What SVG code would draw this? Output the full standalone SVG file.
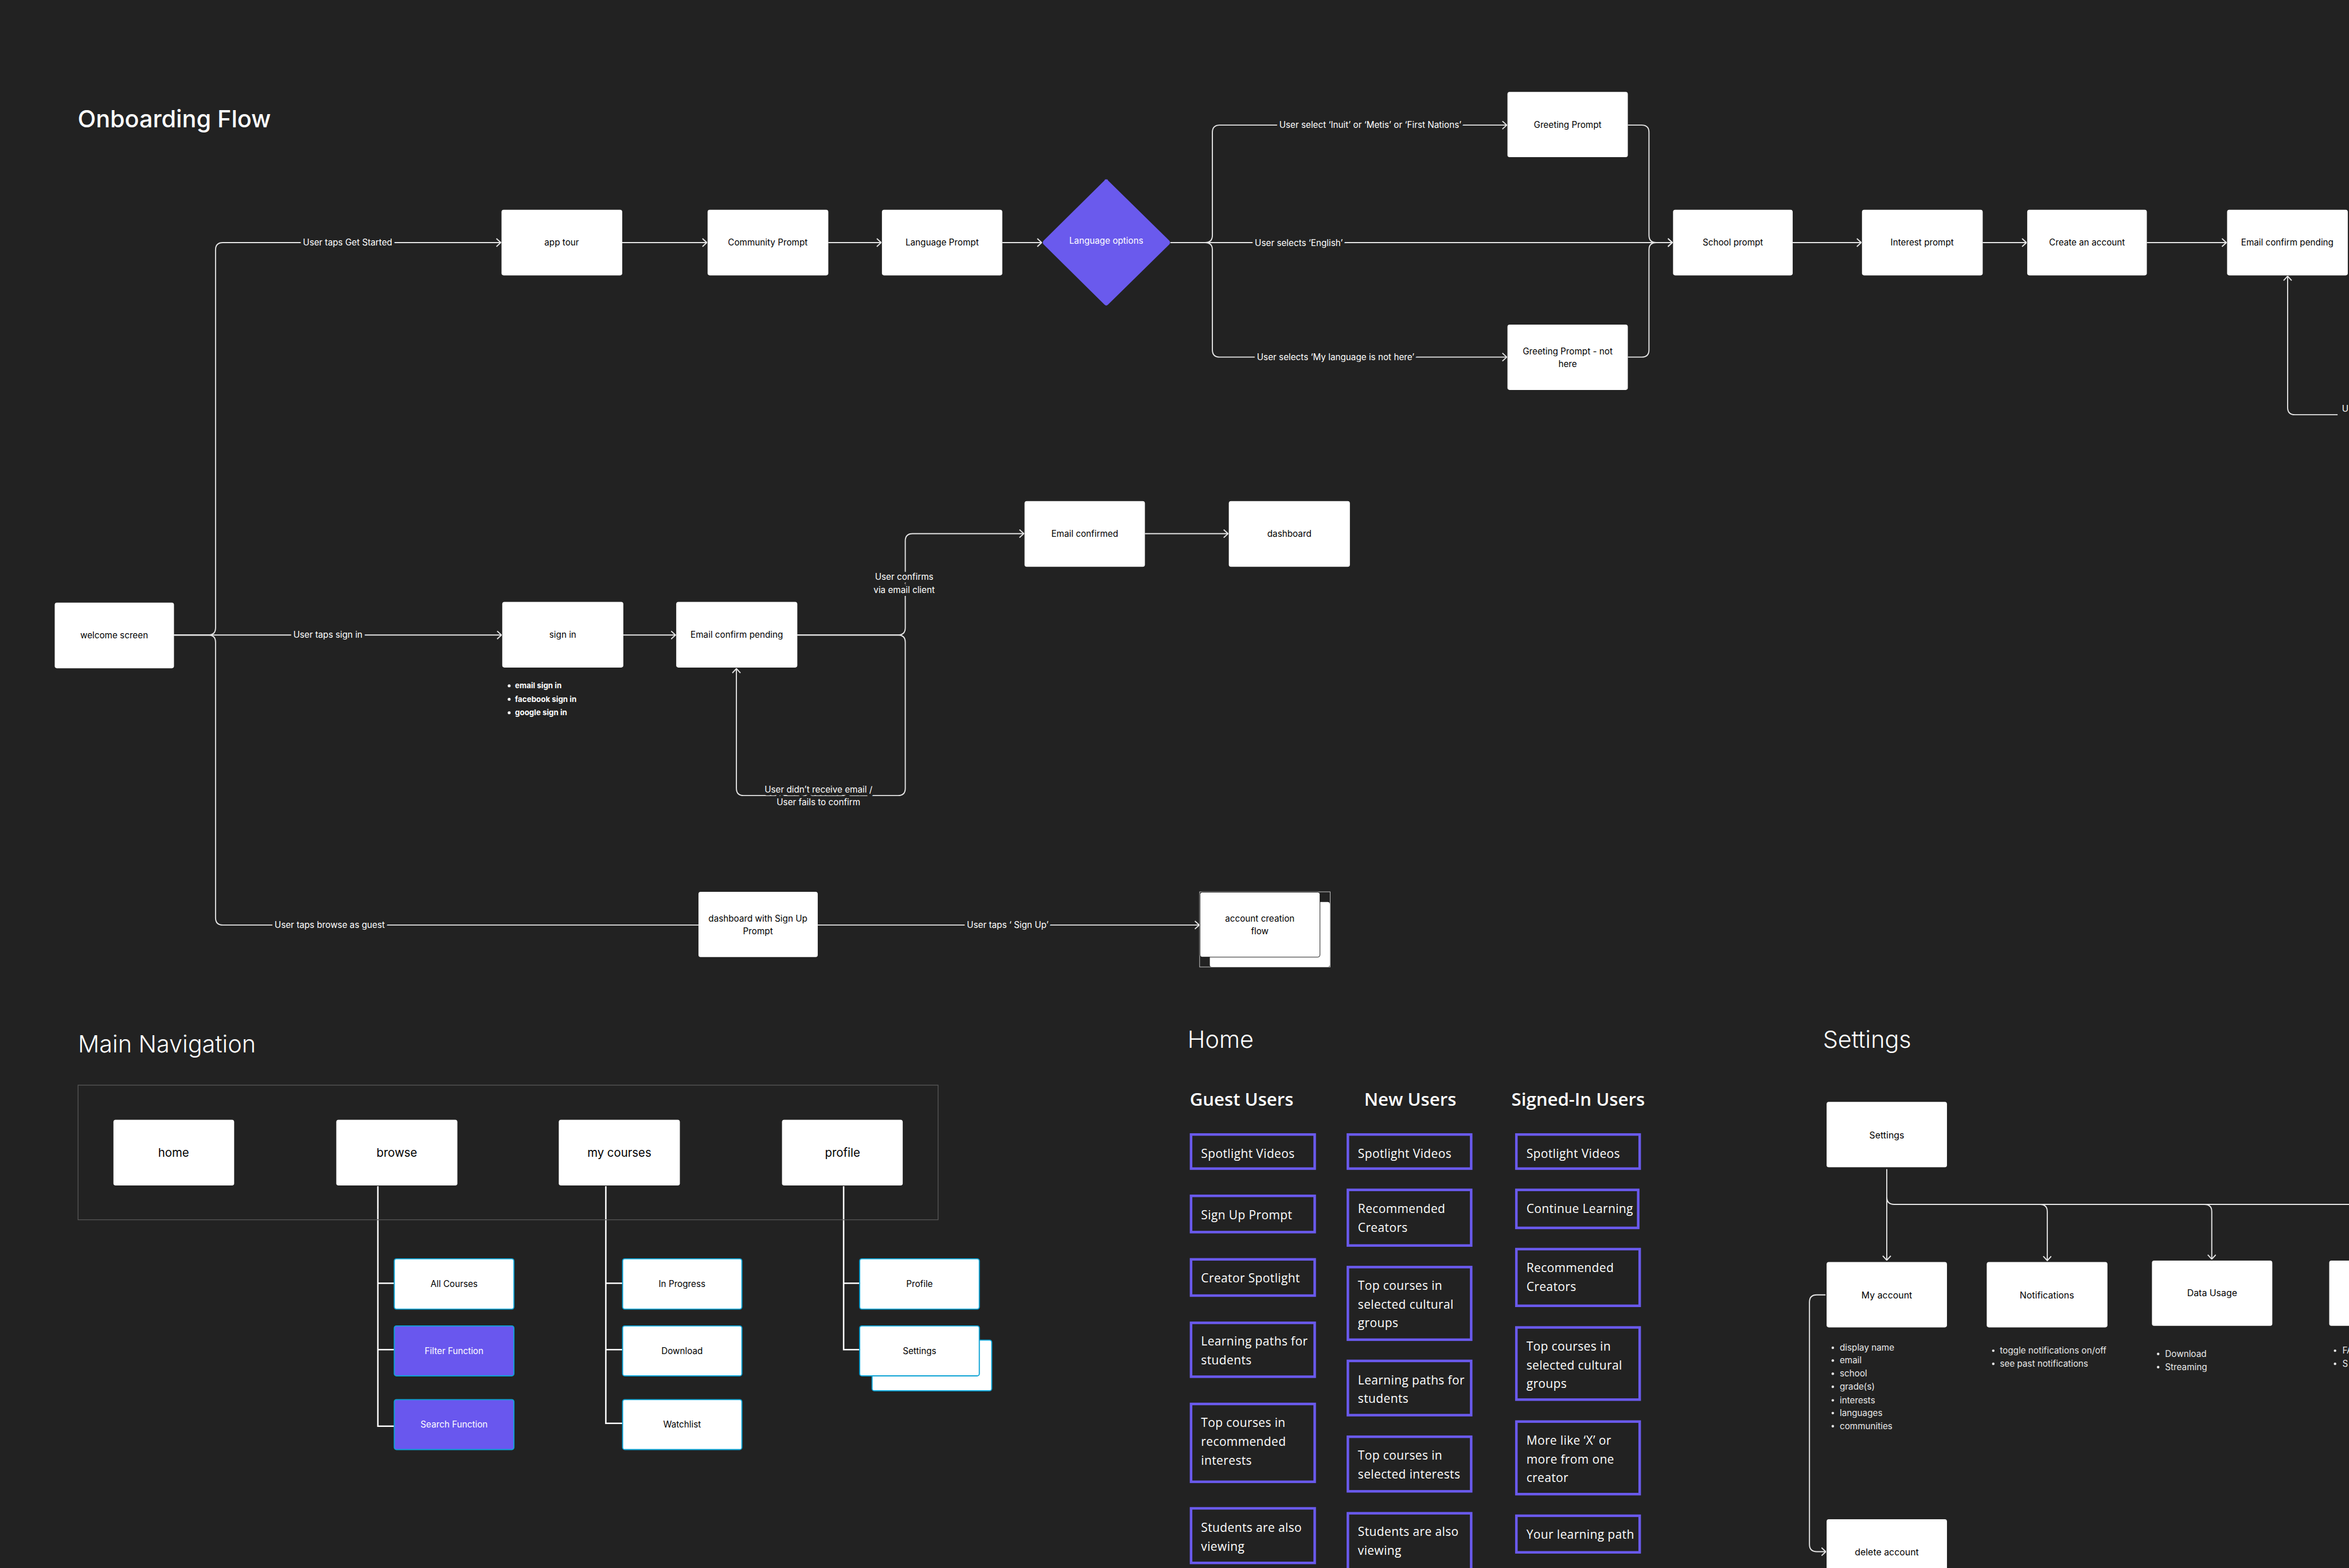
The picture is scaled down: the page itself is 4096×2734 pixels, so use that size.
<svg xmlns="http://www.w3.org/2000/svg" width="4096" height="2734" viewBox="0 0 4096 2734">
<defs>
<style>
.t{font-family:Inter,"Liberation Sans",sans-serif}
.title{font-family:Inter,"Liberation Sans",sans-serif;fill:#fff;font-size:65px;font-weight:300}
.nb{fill:#fff}
.nt{font-family:Inter,"Liberation Sans",sans-serif;font-size:24px;fill:#000;text-anchor:middle}
.nt32{font-family:Inter,"Liberation Sans",sans-serif;font-size:32px;fill:#000;text-anchor:middle}
.nt25{font-family:Inter,"Liberation Sans",sans-serif;font-size:25px;fill:#000;text-anchor:middle}
.conn{fill:none;stroke:#e6e6e6;stroke-width:3}
.navl{fill:none;stroke:#fff;stroke-width:4}
.lbl{font-family:Inter,"Liberation Sans",sans-serif;font-size:24px;fill:#fff;text-anchor:middle;stroke:#222;stroke-width:16px;paint-order:stroke;stroke-linejoin:round}
.child{fill:#fff;stroke:#0ba2d4;stroke-width:3}
.childp{fill:#6957ee;stroke:#0ba2d4;stroke-width:3}
.hb{fill:none;stroke:#6a5aed;stroke-width:7}
.ht{font-family:"Open Sans",Inter,sans-serif;font-size:33px;font-weight:500;fill:#fff;letter-spacing:0.6px}
.hh{font-family:"Open Sans",Inter,sans-serif;font-size:49px;font-weight:600;fill:#fff}
.bul{font-family:Inter,"Liberation Sans",sans-serif;font-size:24px;fill:#e8e8e8}
.bulb{font-family:Inter,"Liberation Sans",sans-serif;font-size:21px;font-weight:700;fill:#fff}
</style>
<marker id="ah" viewBox="0 0 14 24" refX="13" refY="12" markerWidth="14" markerHeight="24" markerUnits="userSpaceOnUse" orient="auto">
<path d="M1,1 L13,12 L1,23" fill="none" stroke="#e6e6e6" stroke-width="3"/>
</marker>
</defs>
<rect x="0" y="0" width="4096" height="2734" fill="#222222"/>
<g transform="scale(0.636)">

<!-- titles -->
<text class="title" x="213" y="349" style="font-weight:500">Onboarding Flow</text>
<text class="title" x="214" y="2885">Main Navigation</text>
<text class="title" x="3256" y="2872">Home</text>
<text class="title" x="4998" y="2872">Settings</text>

<!-- connectors -->
<g id="connectors">
<path class="conn" d="M477,1741 H571 Q591,1741 591,1721 V685 Q591,665 611,665 H1373" marker-end="url(#ah)"/>
<path class="conn" d="M477,1741 H1375" marker-end="url(#ah)"/>
<path class="conn" d="M477,1741 H571 Q591,1741 591,1761 V2516 Q591,2536 611,2536 H1915"/>
<path class="conn" d="M1706,665 H1938" marker-end="url(#ah)"/>
<path class="conn" d="M2271,665 H2416" marker-end="url(#ah)"/>
<path class="conn" d="M2748,665 H2856" marker-end="url(#ah)"/>
<path class="conn" d="M3209,665 H3304 Q3324,665 3324,645 V363 Q3324,343 3344,343 H4131" marker-end="url(#ah)"/>
<path class="conn" d="M3209,665 H4585" marker-end="url(#ah)"/>
<path class="conn" d="M3209,665 H3304 Q3324,665 3324,685 V959 Q3324,979 3344,979 H4131" marker-end="url(#ah)"/>
<path class="conn" d="M4463,343 H4501 Q4521,343 4521,363 V645 Q4521,665 4541,665 H4585" marker-end="url(#ah)"/>
<path class="conn" d="M4463,979 H4501 Q4521,979 4521,959 V685 Q4521,665 4541,665 H4585"/>
<path class="conn" d="M4915,665 H5103" marker-end="url(#ah)"/>
<path class="conn" d="M5436,665 H5556" marker-end="url(#ah)"/>
<path class="conn" d="M5886,665 H6104" marker-end="url(#ah)"/>
<path class="conn" d="M6409,1137 H6292 Q6272,1137 6272,1117 V757" marker-end="url(#ah)"/>
<path class="conn" d="M1709,1741 H1852" marker-end="url(#ah)"/>
<path class="conn" d="M2186,1741 H2462 Q2482,1741 2482,1721 V1483 Q2482,1463 2502,1463 H2807" marker-end="url(#ah)"/>
<path class="conn" d="M3139,1463 H3367" marker-end="url(#ah)"/>
<path class="conn" d="M2186,1741 H2462 Q2482,1741 2482,1761 V2161 Q2482,2181 2462,2181 H2039 Q2019,2181 2019,2161 V1833" marker-end="url(#ah)"/>
<path class="conn" d="M2242,2536 H3288" marker-end="url(#ah)"/>
<!-- labels -->
<text class="lbl" x="953" y="673">User taps Get Started</text>
<text class="lbl" x="899" y="1749">User taps sign in</text>
<text class="lbl" x="904" y="2544">User taps browse as guest</text>
<text class="lbl" x="3757" y="351">User select ‘Inuit’ or ‘Metis’ or ‘First Nations’</text>
<text class="lbl" x="3561" y="674">User selects ‘English’</text>
<text class="lbl" x="3662" y="987">User selects ‘My language is not here’</text>
<text class="lbl" x="2479" y="1590">User confirms</text>
<text class="lbl" x="2479" y="1625">via email client</text>
<text class="lbl" x="2244" y="2173">User didn’t receive email /</text>
<text class="lbl" x="2244" y="2208">User fails to confirm</text>
<text class="lbl" x="2763" y="2544">User taps ‘ Sign Up’</text>
<text class="lbl" x="6421" y="1129" style="text-anchor:start">U</text>
<!-- nav lines -->
<path class="navl" d="M1036,3252 V3910 H1081 M1036,3518 H1081 M1036,3700 H1081"/>
<path class="navl" d="M1661,3252 V3902 H1707 M1661,3518 H1707 M1661,3700 H1707"/>
<path class="navl" d="M2313,3252 V3700 H2357 M2313,3518 H2357"/>
<!-- settings connectors -->
<path class="conn" d="M5173,3205 V3455" marker-end="url(#ah)"/>
<path class="conn" d="M5173,3282 Q5173,3302 5193,3302 H6500"/>
<path class="conn" d="M5593,3302 Q5613,3302 5613,3322 V3456" marker-end="url(#ah)"/>
<path class="conn" d="M6044,3302 Q6064,3302 6064,3322 V3452" marker-end="url(#ah)"/>
<path class="conn" d="M5005,3550 H4981 Q4961,3550 4961,3570 V4234 Q4961,4254 4981,4254 H5006" marker-end="url(#ah)"/>
</g>

<!-- onboarding nodes -->
<g id="n-welcome"><rect class="nb" x="150" y="1652" width="327" height="180" rx="6"/><text class="nt" x="313" y="1750">welcome screen</text></g>
<g id="n-apptour"><rect class="nb" x="1375" y="575" width="331" height="180" rx="6"/><text class="nt" x="1540" y="673">app tour</text></g>
<g id="n-community"><rect class="nb" x="1940" y="575" width="331" height="180" rx="6"/><text class="nt" x="2105" y="673">Community Prompt</text></g>
<g id="n-language"><rect class="nb" x="2418" y="575" width="330" height="180" rx="6"/><text class="nt" x="2583" y="673">Language Prompt</text></g>
<g id="n-langopts"><path d="M3033,492 Q3036,490 3038,495 L3206,660 Q3210,665 3206,670 L3038,835 Q3033,840 3028,835 L2861,670 Q2857,665 2861,660 L3028,495 Q3030,490 3033,492 Z" fill="#6a5aed"/><text class="nt" x="3033" y="669" style="fill:#fff">Language options</text></g>
<g id="n-greet"><rect class="nb" x="4133" y="252" width="330" height="179" rx="6"/><text class="nt" x="4298" y="351">Greeting Prompt</text></g>
<g id="n-greetnot"><rect class="nb" x="4133" y="890" width="330" height="179" rx="6"/><text class="nt" x="4298" y="971">Greeting Prompt - not</text><text class="nt" x="4298" y="1007">here</text></g>
<g id="n-school"><rect class="nb" x="4587" y="575" width="328" height="180" rx="6"/><text class="nt" x="4751" y="673">School prompt</text></g>
<g id="n-interest"><rect class="nb" x="5105" y="575" width="331" height="180" rx="6"/><text class="nt" x="5270" y="673">Interest prompt</text></g>
<g id="n-create"><rect class="nb" x="5558" y="575" width="328" height="180" rx="6"/><text class="nt" x="5722" y="673">Create an account</text></g>
<g id="n-emailpending-top"><rect class="nb" x="6106" y="575" width="331" height="180" rx="6"/><text class="nt" x="6271" y="673">Email confirm pending</text></g>
<g id="n-signin"><rect class="nb" x="1377" y="1650" width="332" height="180" rx="6"/><text class="nt" x="1543" y="1749">sign in</text>
<circle cx="1396" cy="1880" r="4" fill="#fff"/><text class="bulb" x="1412" y="1887">email sign in</text>
<circle cx="1396" cy="1917" r="4" fill="#fff"/><text class="bulb" x="1412" y="1924">facebook sign in</text>
<circle cx="1396" cy="1954" r="4" fill="#fff"/><text class="bulb" x="1412" y="1961">google sign in</text></g>
<g id="n-emailpending"><rect class="nb" x="1854" y="1650" width="332" height="180" rx="6"/><text class="nt" x="2020" y="1749">Email confirm pending</text></g>
<g id="n-emailconfirmed"><rect class="nb" x="2809" y="1374" width="330" height="180" rx="6"/><text class="nt" x="2974" y="1472">Email confirmed</text></g>
<g id="n-dashboard"><rect class="nb" x="3369" y="1374" width="332" height="180" rx="6"/><text class="nt" x="3535" y="1472">dashboard</text></g>
<g id="n-dashsignup"><rect class="nb" x="1915" y="2445" width="327" height="179" rx="6"/><text class="nt" x="2078" y="2527">dashboard with Sign Up</text><text class="nt" x="2078" y="2562">Prompt</text></g>
<g id="n-accountflow"><rect x="3289" y="2445" width="358" height="206" fill="none" stroke="#cfcfcf" stroke-width="1.5"/><rect class="nb" x="3317" y="2473" width="329" height="178" rx="6"/><rect class="nb" x="3290" y="2446" width="329" height="178" rx="6" stroke="#111" stroke-width="1.5"/><text class="nt" x="3454" y="2526">account creation</text><text class="nt" x="3454" y="2562">flow</text></g>

<!-- main navigation -->
<rect x="214" y="2975" width="2358" height="369" fill="none" stroke="#5a5a5a" stroke-width="2"/>
<g id="nav-home"><rect class="nb" x="311" y="3070" width="331" height="180" rx="6"/><text class="nt32" x="476" y="3171">home</text></g>
<g id="nav-browse"><rect class="nb" x="922" y="3070" width="332" height="180" rx="6"/><text class="nt32" x="1088" y="3171">browse</text></g>
<g id="nav-mycourses"><rect class="nb" x="1532" y="3070" width="332" height="180" rx="6"/><text class="nt32" x="1698" y="3171">my courses</text></g>
<g id="nav-profile"><rect class="nb" x="2144" y="3070" width="331" height="180" rx="6"/><text class="nt32" x="2310" y="3171">profile</text></g>
<g id="nav-allcourses"><rect class="child" x="1081" y="3451" width="328" height="138" rx="6"/><text class="nt" x="1245" y="3528">All Courses</text></g>
<g id="nav-filter"><rect class="childp" x="1081" y="3635" width="328" height="137" rx="6"/><text class="nt" x="1245" y="3712" style="fill:#fff">Filter Function</text></g>
<g id="nav-search"><rect class="childp" x="1081" y="3837" width="328" height="137" rx="6"/><text class="nt" x="1245" y="3914" style="fill:#fff">Search Function</text></g>
<g id="nav-inprogress"><rect class="child" x="1707" y="3451" width="327" height="138" rx="6"/><text class="nt" x="1870" y="3528">In Progress</text></g>
<g id="nav-download"><rect class="child" x="1707" y="3635" width="327" height="137" rx="6"/><text class="nt" x="1870" y="3712">Download</text></g>
<g id="nav-watchlist"><rect class="child" x="1707" y="3837" width="327" height="137" rx="6"/><text class="nt" x="1870" y="3914">Watchlist</text></g>
<g id="nav-profile-child"><rect class="child" x="2357" y="3451" width="328" height="138" rx="6"/><text class="nt" x="2521" y="3528">Profile</text></g>
<g id="nav-settings"><rect class="child" x="2391" y="3674" width="328" height="139" rx="6"/><rect class="child" x="2357" y="3635" width="328" height="137" rx="6"/><text class="nt" x="2521" y="3712">Settings</text></g>

<!-- home -->
<text class="hh" x="3262" y="3031">Guest Users</text>
<text class="hh" x="3740" y="3031">New Users</text>
<text class="hh" x="4144" y="3031">Signed-In Users</text>
<g id="h-g1"><rect class="hb" x="3265.5" y="3110.3" width="339" height="93.5"/><text class="ht" x="3293" y="3174">Spotlight Videos</text></g>
<g id="h-g2"><rect class="hb" x="3265.5" y="3278.5" width="339" height="99.4"/><text class="ht" x="3293" y="3342">Sign Up Prompt</text></g>
<g id="h-g3"><rect class="hb" x="3265.5" y="3452.6" width="339" height="99.3"/><text class="ht" x="3293" y="3515">Creator Spotlight</text></g>
<g id="h-g4"><rect class="hb" x="3265.5" y="3626.6" width="339" height="147.7"/><text class="ht" x="3293" y="3689">Learning paths for</text><text class="ht" x="3293" y="3740">students</text></g>
<g id="h-g5"><rect class="hb" x="3265.5" y="3849" width="339" height="213.4"/><text class="ht" x="3293" y="3912">Top courses in</text><text class="ht" x="3293" y="3964">recommended</text><text class="ht" x="3293" y="4015">interests</text></g>
<g id="h-g6"><rect class="hb" x="3265.5" y="4135.2" width="339" height="149.6"/><text class="ht" x="3293" y="4200">Students are also</text><text class="ht" x="3293" y="4251">viewing</text></g>
<g id="h-n1"><rect class="hb" x="3695.5" y="3110.3" width="338" height="93.5"/><text class="ht" x="3723" y="3174">Spotlight Videos</text></g>
<g id="h-n2"><rect class="hb" x="3695.5" y="3262.1" width="338" height="152.5"/><text class="ht" x="3723" y="3326">Recommended</text><text class="ht" x="3723" y="3377">Creators</text></g>
<g id="h-n3"><rect class="hb" x="3695.5" y="3473.8" width="338" height="199"/><text class="ht" x="3723" y="3536">Top courses in</text><text class="ht" x="3723" y="3588">selected cultural</text><text class="ht" x="3723" y="3639">groups</text></g>
<g id="h-n4"><rect class="hb" x="3695.5" y="3731" width="338" height="148.7"/><text class="ht" x="3723" y="3795">Learning paths for</text><text class="ht" x="3723" y="3846">students</text></g>
<g id="h-n5"><rect class="hb" x="3695.5" y="3938.9" width="338" height="149.6"/><text class="ht" x="3723" y="4001">Top courses in</text><text class="ht" x="3723" y="4053">selected interests</text></g>
<g id="h-n6"><rect class="hb" x="3695.5" y="4148.7" width="338" height="160"/><text class="ht" x="3723" y="4211">Students are also</text><text class="ht" x="3723" y="4262">viewing</text></g>
<g id="h-s1"><rect class="hb" x="4157.5" y="3110.3" width="338" height="93.5"/><text class="ht" x="4185" y="3174">Spotlight Videos</text></g>
<g id="h-s2"><rect class="hb" x="4157.5" y="3262.1" width="334" height="104.2"/><text class="ht" x="4185" y="3326">Continue Learning</text></g>
<g id="h-s3"><rect class="hb" x="4157.5" y="3424.5" width="338" height="155.4"/><text class="ht" x="4185" y="3488">Recommended</text><text class="ht" x="4185" y="3539">Creators</text></g>
<g id="h-s4"><rect class="hb" x="4157.5" y="3639.2" width="338" height="197.9"/><text class="ht" x="4185" y="3703">Top courses in</text><text class="ht" x="4185" y="3754">selected cultural</text><text class="ht" x="4185" y="3805">groups</text></g>
<g id="h-s5"><rect class="hb" x="4157.5" y="3897.3" width="338" height="198.9"/><text class="ht" x="4185" y="3961">More like ‘X’ or</text><text class="ht" x="4185" y="4012">more from one</text><text class="ht" x="4185" y="4063">creator</text></g>
<g id="h-s6"><rect class="hb" x="4157.5" y="4155.5" width="338" height="100.3"/><text class="ht" x="4185" y="4218">Your learning path</text></g>

<!-- settings -->
<g id="s-settings"><rect class="nb" x="5008" y="3021" width="330" height="179" rx="6"/><text class="nt25" x="5173" y="3121">Settings</text></g>
<g id="s-myaccount"><rect class="nb" x="5008" y="3460" width="330" height="179" rx="6"/><text class="nt25" x="5173" y="3559">My account</text>
<g class="bul">
<circle cx="5025" cy="3695" r="3.5" fill="#e8e8e8"/><text x="5044" y="3703">display name</text>
<circle cx="5025" cy="3730" r="3.5" fill="#e8e8e8"/><text x="5044" y="3738">email</text>
<circle cx="5025" cy="3766" r="3.5" fill="#e8e8e8"/><text x="5044" y="3774">school</text>
<circle cx="5025" cy="3802" r="3.5" fill="#e8e8e8"/><text x="5044" y="3810">grade(s)</text>
<circle cx="5025" cy="3839" r="3.5" fill="#e8e8e8"/><text x="5044" y="3847">interests</text>
<circle cx="5025" cy="3874" r="3.5" fill="#e8e8e8"/><text x="5044" y="3882">languages</text>
<circle cx="5025" cy="3910" r="3.5" fill="#e8e8e8"/><text x="5044" y="3918">communities</text>
</g></g>
<g id="s-notifications"><rect class="nb" x="5447" y="3460" width="331" height="179" rx="6"/><text class="nt25" x="5612" y="3559">Notifications</text>
<g class="bul">
<circle cx="5465" cy="3703" r="3.5" fill="#e8e8e8"/><text x="5483" y="3711">toggle notifications on/off</text>
<circle cx="5465" cy="3739" r="3.5" fill="#e8e8e8"/><text x="5483" y="3747">see past notifications</text>
</g></g>
<g id="s-datausage"><rect class="nb" x="5900" y="3456" width="330" height="179" rx="6"/><text class="nt25" x="6065" y="3554">Data Usage</text>
<g class="bul">
<circle cx="5917" cy="3712" r="3.5" fill="#e8e8e8"/><text x="5936" y="3720">Download</text>
<circle cx="5917" cy="3748" r="3.5" fill="#e8e8e8"/><text x="5936" y="3756">Streaming</text>
</g></g>
<g id="s-fourth"><rect class="nb" x="6386" y="3456" width="330" height="179" rx="6"/>
<g class="bul">
<circle cx="6402" cy="3703" r="3.5" fill="#e8e8e8"/><text x="6422" y="3711">FA</text>
<circle cx="6402" cy="3739" r="3.5" fill="#e8e8e8"/><text x="6422" y="3747">S</text>
</g></g>
<g id="s-delete"><rect class="nb" x="5008" y="4165" width="330" height="179" rx="6"/><text class="nt25" x="5173" y="4264">delete account</text></g>

</g>
</svg>
